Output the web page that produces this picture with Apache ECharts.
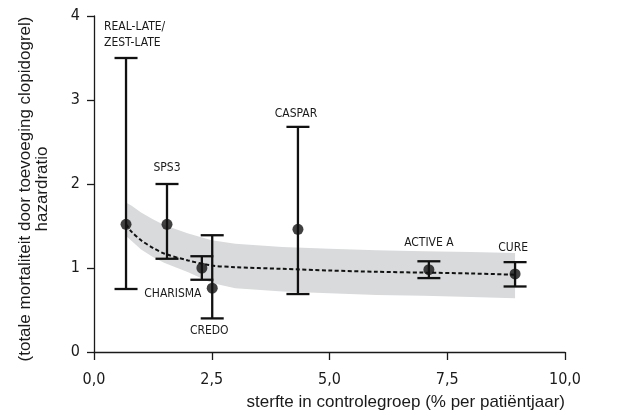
<!DOCTYPE html>
<html>
<head>
<meta charset="utf-8">
<script src="https://cdn.jsdelivr.net/npm/echarts@6/dist/echarts.min.js"></script>
<style>html,body{margin:0;padding:0;background:#fff;}#c{width:619px;height:412px;}</style>
</head>
<body>
<div id="c"></div>
<script>
// ---- data ----
const studies = ['REAL-LATE/\nZEST-LATE', 'SPS3', 'CHARISMA', 'CREDO', 'CASPAR', 'ACTIVE A', 'CURE'];
const controlMortality = [0.68, 1.55, 2.29, 2.51, 4.33, 7.11, 8.94];
const hazardRatio = [1.52, 1.52, 1.00, 0.76, 1.46, 0.98, 0.93];
const ciLow = [0.75, 1.11, 0.86, 0.40, 0.69, 0.88, 0.78];
const ciHigh = [3.50, 2.00, 1.14, 1.39, 2.68, 1.08, 1.07];

const fitX = [0.68, 0.8, 1.0, 1.25, 1.5, 2.0, 2.5, 3.0, 4.0, 5.0, 6.0, 7.0, 8.0, 8.94];
const fitHR = [1.52, 1.43, 1.33, 1.24, 1.17, 1.09, 1.03, 1.01, 0.99, 0.97, 0.955, 0.945, 0.935, 0.92];
const fitHigh = [1.78, 1.74, 1.66, 1.58, 1.51, 1.41, 1.33, 1.29, 1.25, 1.23, 1.21, 1.20, 1.19, 1.18];
const fitLow = [1.38, 1.32, 1.22, 1.13, 1.06, 0.95, 0.82, 0.76, 0.72, 0.70, 0.68, 0.67, 0.655, 0.64];

const xTicks = [0, 2.5, 5, 7.5, 10];
const yTicks = [0, 1, 2, 3, 4];

// ---- styling (label offsets in pixels relative to each point) ----
const labelStyle = [
  {dx: -22, dy: -189, align: 'left'},
  {dx: 0, dy: -56, align: 'center'},
  {dx: -29, dy: 26, align: 'center'},
  {dx: -3, dy: 43, align: 'center'},
  {dx: -2, dy: -115, align: 'center'},
  {dx: 0, dy: -27, align: 'center'},
  {dx: -2, dy: -26, align: 'center'}
];
const NARROW = "'Liberation Sans Narrow', 'DejaVu Sans Condensed', sans-serif";
const REG = "'Liberation Sans', Arial, sans-serif";
const INK = '#1a1a1a';

const chart = echarts.init(document.getElementById('c'), null, {renderer: 'canvas'});

const bandData = fitX.map((x, i) => [x, fitLow[i], fitHigh[i]]);
const errData = controlMortality.map((x, i) => [x, ciLow[i], ciHigh[i], hazardRatio[i]]);

chart.setOption({
  animation: false,
  grid: {left: 94, right: 54, top: 16, bottom: 60, containLabel: false, outerBoundsMode: 'none'},
  xAxis: {
    type: 'value', min: 0, max: 10, interval: 2.5,
    axisLine: {show: true, onZero: false, lineStyle: {color: INK, width: 1.3}},
    axisTick: {show: true, length: 8, lineStyle: {color: INK, width: 1.3}},
    splitLine: {show: false},
    axisLabel: {
      margin: 20, fontSize: 16, fontFamily: NARROW, color: INK,
      formatter: v => xTicks.indexOf(v) >= 0 ? v.toFixed(1).replace('.', ',') : ''
    },
    name: 'sterfte in controlegroep (% per patiëntjaar)',
    nameLocation: 'end', nameGap: 0, nameMoveOverlap: false,
    nameTextStyle: {fontSize: 17, fontFamily: REG, color: INK, align: 'right', verticalAlign: 'top', padding: [42, 0, 0, 0]}
  },
  yAxis: {
    type: 'value', min: 0, max: 4, interval: 1,
    axisLine: {show: true, onZero: false, lineStyle: {color: INK, width: 1.3}},
    axisTick: {show: true, length: 7, lineStyle: {color: INK, width: 1.3}},
    splitLine: {show: false},
    axisLabel: {margin: 14, fontSize: 16, fontFamily: NARROW, color: INK,
      formatter: v => yTicks.indexOf(v) >= 0 ? String(v) : ''},
    name: '(totale mortaliteit door toevoeging clopidogrel)\nhazardratio',
    nameLocation: 'middle', nameGap: 43, nameMoveOverlap: false,
    nameTextStyle: {fontSize: 17, fontFamily: REG, color: INK, lineHeight: 17, padding: [0, 10, 0, 0]}
  },
  series: [
    {
      type: 'custom', name: 'band', z: 1, silent: true,
      data: bandData,
      encode: {x: 0, y: [1, 2]},
      renderItem: function (params, api) {
        if (params.dataIndex !== 0) return null;
        const pts = [];
        for (let i = 0; i < fitX.length; i++) pts.push(api.coord([fitX[i], fitHigh[i]]));
        for (let i = fitX.length - 1; i >= 0; i--) pts.push(api.coord([fitX[i], fitLow[i]]));
        return {type: 'polygon', shape: {points: pts}, style: {fill: '#d9dadb'}};
      }
    },
    {
      type: 'line', name: 'fit', z: 3, silent: true,
      data: fitX.map((x, i) => [x, fitHR[i]]),
      showSymbol: false, smooth: 0.3,
      lineStyle: {color: '#111', width: 2, type: [4, 2.5]}
    },
    {
      type: 'custom', name: 'ci', z: 4, silent: true,
      data: errData,
      encode: {x: 0, y: [1, 2]},
      renderItem: function (params, api) {
        const i = params.dataIndex;
        const x = api.value(0);
        const top = api.coord([x, api.value(2)]);
        const bot = api.coord([x, api.value(1)]);
        const pt = api.coord([x, api.value(3)]);
        const hw = 11.5;
        const st = {stroke: '#111', lineWidth: 2.3};
        const ls = labelStyle[i];
        return {type: 'group', children: [
          {type: 'line', shape: {x1: top[0], y1: top[1], x2: bot[0], y2: bot[1]}, style: st},
          {type: 'line', shape: {x1: top[0] - hw, y1: top[1], x2: top[0] + hw, y2: top[1]}, style: st},
          {type: 'line', shape: {x1: bot[0] - hw, y1: bot[1], x2: bot[0] + hw, y2: bot[1]}, style: st},
          {type: 'text', x: pt[0] + ls.dx, y: pt[1] + ls.dy,
            style: {text: studies[i], fill: INK, font: '12px ' + NARROW, align: ls.align, verticalAlign: 'middle', lineHeight: 16}}
        ]};
      }
    },
    {
      type: 'scatter', name: 'hr', z: 5, silent: true,
      data: controlMortality.map((x, i) => [x, hazardRatio[i]]),
      symbol: 'circle', symbolSize: 11,
      itemStyle: {color: '#111'}
    }
  ]
});
</script>
</body>
</html>
